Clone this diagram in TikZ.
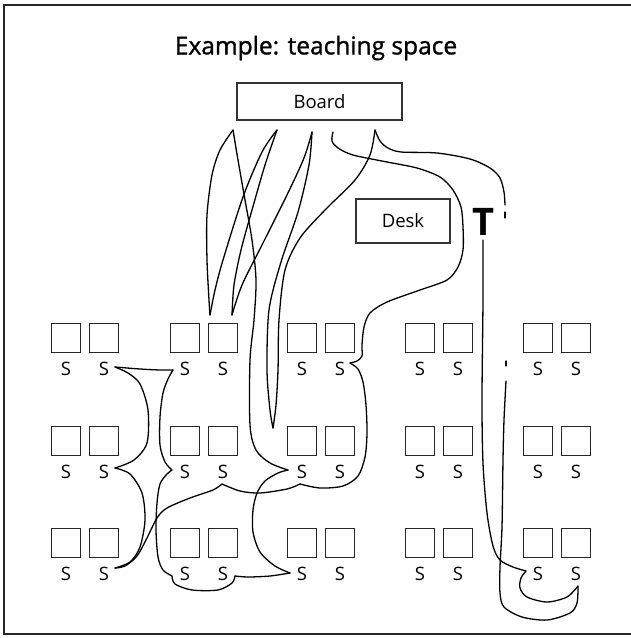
\documentclass[tikz,border=0pt]{standalone}
\usepackage{fontspec}
\setmainfont{Open Sans}
\newfontfamily\titlefont[FakeBold=1.2]{Open Sans}
\begin{document}
\begin{tikzpicture}[x=1pt,y=-1pt,
  seat/.style={draw=black!85,line width=1.4pt,minimum width=29pt,minimum height=29pt,inner sep=0pt,anchor=north west},
  slab/.style={font=\fontsize{18.5}{18}\selectfont,inner sep=0pt},
  boxlbl/.style={draw=black!80,line width=1.1pt,font=\fontsize{18.5}{18}\selectfont,inner sep=0pt},
  walk/.style={line width=1.3pt,line join=round,line cap=round}]
\useasboundingbox (0,0) rectangle (631,638);
% frame
\draw[line width=1.4pt,black!85] (631,5) -- (4,5) -- (4,634) -- (631,634);
% title
\node[font=\titlefont\fontsize{24.5}{24}\selectfont,inner sep=0pt] (title) at (316,48) {Example: teaching space};
% board, desk, teacher
\node[boxlbl,minimum width=165pt,minimum height=37pt] (board) at (319.5,101.5) {Board};
\node[boxlbl,minimum width=94pt,minimum height=44pt] (desk) at (403,221) {Desk};
\node[font=\fontsize{38}{38}\selectfont\bfseries,inner sep=0pt] (teacher) at (483,222) {T};
% seats
\foreach \gx [count=\g] in {51,170,287,405,523}{
  \foreach \ry [count=\r] in {323,426,528}{
    \node[seat] (q\g\r a) at (\gx,\ry) {};
    \node[seat] (q\g\r b) at (\gx+38,\ry) {};
    \node[slab] (s\g\r a) at (\gx+15,\ry+46) {S};
    \node[slab] (s\g\r b) at (\gx+53,\ry+46) {S};
  }
}
% --- walks from the board (zig-zag) ---
\draw[walk] plot[smooth] coordinates {(233,130) (220,150) (212,175) (207,215) (207,260) (209,300) (210,315)};
\draw[walk] plot[smooth] coordinates {(210,315) (215,290) (223,260) (243,197) (262,152) (277,130)};
\draw[walk] plot[smooth] coordinates {(232,315) (234,285) (241,250) (252,210) (265,165) (277,130)};
\draw[walk] plot[smooth] coordinates {(232,315) (242,285) (262,245) (287,195) (304,158) (312,132)};
\draw[walk] plot[smooth] coordinates {(312,132) (309,165) (298,212) (281,262) (269,310) (267,370) (270,410) (273,428)};
\draw[walk] plot[smooth] coordinates {(375,130) (370,155) (355,180) (325,210) (300,238) (285,270) (279,320) (278,370) (276,405) (273,428)};
% long line to S (3,2)
\draw[walk] plot[smooth] coordinates {(233,130) (238,160) (245,200) (252,240) (256,280) (254,320) (250,360) (250,425) (256,450) (270,463) (288,470)};
\draw[walk] plot[smooth] coordinates {(288,470) (278,473) (265,481) (257,493) (253,510) (253,532) (260,552) (275,566) (290,573)};
% bottom hook under group 2 row 3 and up
\draw[walk] plot[smooth] coordinates {(290,573) (270,576) (248,577) (235,576)};
\draw[walk] plot[smooth] coordinates {(235,576) (232,583) (218,590) (192,590) (175,584) (172,576)};
\draw[walk] plot[smooth] coordinates {(172,576) (163,570) (158,557) (156,530) (157,503) (160,484) (167,474) (172,470)};
\draw[walk] plot[smooth] coordinates {(172,470) (165,462) (160,445) (160,417) (163,393) (168,379) (173,370)};
\draw[walk] plot[smooth] coordinates {(173,370) (160,370) (140,369) (115,367)};
\draw[walk] plot[smooth] coordinates {(115,367) (128,373) (140,384) (148,410) (147,443) (134,460) (115,468)};
\draw[walk] plot[smooth] coordinates {(115,468) (130,474) (142,493) (145,520) (140,547) (130,562) (115,568)};
% around the desk
\draw[walk] plot[smooth] coordinates {(333,132) (332,141) (338,148) (353,155) (387,162) (417,168) (440,177) (453,190) (461,207) (463,227) (463,250) (458,267) (447,280) (420,290) (387,302) (370,313) (364,327) (362,345) (362,356) (357,361) (350,363)};
\draw[walk] plot[smooth] coordinates {(350,363) (358,369) (363,382) (366,405) (367,433) (365,457) (358,476) (343,486) (320,488) (300,484)};
\draw[walk] plot[smooth] coordinates {(300,484) (287,489) (260,493) (240,491) (222,484)};
\draw[walk] plot[smooth] coordinates {(222,484) (213,490) (190,498) (167,508) (157,518) (147,538) (137,556) (125,566) (115,568)};
% board to the right side
\draw[walk] plot[smooth] coordinates {(375,130) (380,141) (388,148) (401,152) (437,153) (470,159) (490,168) (500,178) (504,192) (505,205)};
\draw[walk] (505,212) -- (505,218);
\draw[walk] (506,361) -- (506,366);
% teacher route
\draw[walk] plot[smooth] coordinates {(483,240) (483,300) (482,400) (483,463) (487,513) (493,546) (500,560) (513,567) (526,571)};
\draw[walk] plot[smooth] coordinates {(526,571) (521,578) (520,588) (527,597) (547,602) (567,597) (578,586)};
\draw[walk] plot[smooth] coordinates {(578,586) (577,603) (570,613) (547,620) (522,617) (504,607) (500,593) (500,567) (502,527) (503,460) (504,420) (506,381)};
\end{tikzpicture}
\end{document}
